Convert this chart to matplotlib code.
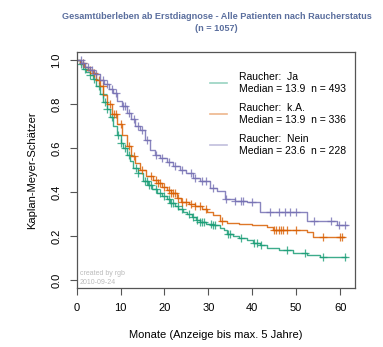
import numpy as np
import matplotlib
matplotlib.use("Agg")
import matplotlib.pyplot as plt

plt.rcParams['font.family'] = ['Liberation Sans', 'DejaVu Sans']

# Kaplan-Meier step knots (months, survival)
ja_t = [0, 0.8, 1.5, 2.2, 3.0, 3.7, 4.5, 5.3, 6.1, 6.9, 7.6, 8.3, 9.2, 10.0, 10.6, 11.5, 12.2,
        12.9, 13.9, 15.1, 16.2, 17.2, 18.3, 19.5, 20.5, 21.3, 22.3, 23.2, 24.2, 25.1, 26.2, 27.2,
        28.0, 29.5, 31.0, 32.7, 33.6, 34.2, 35.5, 37.0, 38.8, 40.2, 41.8, 43.3, 46.0, 49.3, 52.4,
        55.4, 61.3]
ja_s = [1.0, 0.98, 0.96, 0.945, 0.93, 0.915, 0.88, 0.845, 0.81, 0.775, 0.74, 0.70, 0.66, 0.625,
        0.60, 0.57, 0.54, 0.51, 0.485, 0.45, 0.43, 0.413, 0.397, 0.382, 0.367, 0.352, 0.337, 0.322,
        0.31, 0.30, 0.285, 0.275, 0.262, 0.255, 0.248, 0.238, 0.228, 0.21, 0.2, 0.19, 0.18, 0.17,
        0.16, 0.145, 0.135, 0.125, 0.114, 0.105, 0.105]
ja_cens = [1, 2, 3, 4, 5, 6, 6.5, 7, 8, 9.5, 10, 11, 12, 13.5, 14, 15.5, 16, 16.5, 17, 18, 19,
           20, 21, 21.5, 22, 23, 24, 25.5, 26.5, 27.5, 28, 28.5, 29, 30.5, 31, 31.5, 34.5, 35,
           37.5, 40.5, 41, 42, 48, 52, 56, 61]

ka_t = [0, 0.8, 1.6, 2.5, 3.7, 4.5, 5.3, 6.1, 6.9, 8.0, 9.2, 10.3, 11.4, 12.5, 13.4, 14.4, 15.8,
        17.4, 18.5, 19.5, 20.5, 21.5, 22.8, 23.8, 25.5, 27.0, 28.5, 29.6, 31.0, 32.7, 34.2, 37.0,
        40.0, 43.3, 44.8, 52.4, 53.8, 60.9]
ka_s = [1.0, 0.985, 0.97, 0.955, 0.94, 0.91, 0.88, 0.84, 0.80, 0.755, 0.71, 0.66, 0.61, 0.565,
        0.53, 0.50, 0.475, 0.455, 0.44, 0.425, 0.41, 0.395, 0.375, 0.355, 0.345, 0.335, 0.325,
        0.31, 0.295, 0.27, 0.26, 0.255, 0.248, 0.24, 0.227, 0.22, 0.195, 0.195]
ka_cens = [1.5, 3, 4, 5, 6, 7.5, 8.5, 9, 10, 12, 13, 15, 17, 18, 18.5, 19, 20, 21, 21.5, 22,
           22.5, 23, 24, 25, 26, 27, 28, 29.5, 33, 45, 45.5, 46, 46.5, 47, 48, 50, 56, 60, 60.5]

nein_t = [0, 1.1, 2.0, 3.0, 4.0, 5.3, 6.3, 7.3, 8.3, 9.3, 10.3, 11.4, 12.4, 13.4, 14.4, 15.5,
          16.7, 17.8, 19.0, 20.5, 22.0, 23.5, 25.0, 26.5, 28.0, 30.4, 32.0, 33.8, 36.0, 38.8,
          41.8, 52.4, 59.3, 61.5]
nein_s = [1.0, 0.985, 0.97, 0.955, 0.935, 0.91, 0.89, 0.87, 0.85, 0.815, 0.79, 0.76, 0.73, 0.70,
          0.68, 0.635, 0.59, 0.57, 0.555, 0.535, 0.52, 0.50, 0.485, 0.465, 0.45, 0.42, 0.405,
          0.37, 0.36, 0.355, 0.31, 0.27, 0.25, 0.25]
nein_cens = [1, 1.5, 2.5, 3.5, 4.5, 6, 7, 8, 9, 10.5, 11, 12, 13, 14, 15, 16, 18, 19.5, 21, 22.5,
             24, 26, 27, 28.5, 29.5, 31, 34, 36, 37.5, 38, 40, 44, 46, 47.5, 48.5, 50, 54, 58,
             59.8, 61.2]

labels = ["Raucher:  Ja\nMedian = 13.9  n = 493",
          "Raucher:  k.A.\nMedian = 13.9  n = 336",
          "Raucher:  Nein\nMedian = 23.6  n = 228"]
colors = ["#1b9e77", "#d95f02", "#7570b3"]

fig = plt.figure(figsize=(3.83, 3.47), dpi=100)
ax = fig.add_axes([0.200, 0.170, 0.727, 0.680])

series = [(ja_t, ja_s, ja_cens), (ka_t, ka_s, ka_cens), (nein_t, nein_s, nein_cens)]
handles = []
for (t, s, c), col, lab in zip(series, colors, labels):
    t = np.array(t)
    s = np.array(s)
    ax.plot(t, s, drawstyle='steps-post', color=col, lw=1.0, alpha=0.85)
    idx = np.searchsorted(t, c, side='right') - 1
    ax.plot(c, s[idx], ls='none', marker='+', ms=6, mew=0.9, color=col, alpha=0.8)
    h, = ax.plot([], [], color=col, lw=1.2, alpha=0.45, label=lab)
    handles.append(h)

ax.set_xlim(0, 63.4)
ax.set_ylim(-0.036, 1.036)
ax.set_xticks([0, 10, 20, 30, 40, 50, 60])
ax.set_yticks([0.0, 0.2, 0.4, 0.6, 0.8, 1.0])
ax.set_yticklabels(["0.0", "0.2", "0.4", "0.6", "0.8", "1.0"], rotation=90, va='center')
ax.tick_params(axis='both', length=5, width=0.8, color='#555555', labelsize=8, pad=6)
for sp in ax.spines.values():
    sp.set_color('#555555')
    sp.set_linewidth(0.9)

ax.set_xlabel("Monate (Anzeige bis max. 5 Jahre)", fontsize=8, labelpad=12)
ax.set_ylabel("Kaplan-Meyer-Schätzer", fontsize=8, labelpad=10)

leg = ax.legend(handles=handles, loc='upper left', bbox_to_anchor=(0.447, 0.955),
                frameon=False, fontsize=7.5, handlelength=1.6, handletextpad=1.1,
                labelspacing=0.9)

fig.text(0.565, 0.953, "Gesamtüberleben ab Erstdiagnose - Alle Patienten nach Raucherstatus",
         ha='center', va='center', fontsize=6.6, fontweight='bold', color='#5b6f9e')
fig.text(0.565, 0.918, "(n = 1057)", ha='center', va='center', fontsize=6.6,
         fontweight='bold', color='#5b6f9e')

ax.text(0.012, 0.075, "created by rgb\n2010-09-24", transform=ax.transAxes, fontsize=5,
        color='#bbbbbb', va='top', ha='left', linespacing=1.3)

fig.savefig("out.png", dpi=100)
